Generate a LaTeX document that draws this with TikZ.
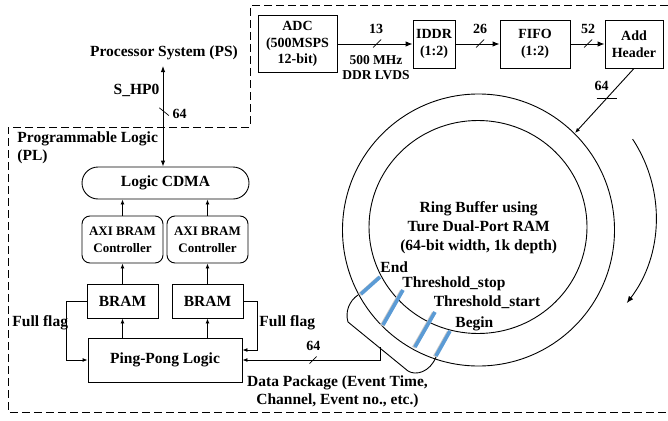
\documentclass[tikz,border=0pt]{standalone}
\usepackage{fontspec}
\setmainfont{Liberation Serif}
\usetikzlibrary{arrows.meta,calc}
\definecolor{markblue}{HTML}{5B9BD5}
\newcommand\fsbig{\fontsize{15.5}{18}\selectfont\bfseries}
\newcommand\fsring{\fontsize{15.5}{19}\selectfont\bfseries}
\newcommand\fsbox{\fontsize{14}{16.7}\selectfont\bfseries}
\newcommand\fslvds{\fontsize{13.5}{15}\selectfont\bfseries}
\newcommand\fsctl{\fontsize{13}{16.6}\selectfont\bfseries}

\begin{document}
\begin{tikzpicture}[x=1pt,y=-1pt,line width=0.9pt,
  every node/.style={font=\fsbig, inner sep=0pt},
  box/.style={draw, align=center},
  rbox/.style={draw, align=center, rounded corners=8pt},
  arr/.style={-{Latex[length=5pt,width=4pt]}},
  bigarr/.style={-{Latex[length=7pt,width=5.5pt]}},
  dblarr/.style={{Latex[length=6pt,width=4.5pt]}-{Latex[length=6pt,width=4.5pt]}},
  border/.style={dash pattern=on 8pt off 4pt, line width=1pt},
  slash/.style={line width=0.7pt},
  tagmark/.style={line width=3.6pt, draw=markblue},
  tagshadow/.style={line width=3.6pt, draw=black!22},
]
\useasboundingbox (0,0) rectangle (668,420);

% PS / PL partition
\draw[border] (668,6) -- (250,6) -- (250,127) -- (8,127) -- (8,412) -- (668,412);

% ---------- acquisition chain ----------
\node[box, minimum width=79, minimum height=57, font=\fsbox] (adc) at (297.5,44) {ADC\\(500MSPS\\12-bit)};
\node[box, minimum width=42, minimum height=48, font=\fsbox] (iddr) at (434,44) {IDDR\\(1:2)};
\node[box, minimum width=70, minimum height=48, font=\fsbox] (fifo) at (535,44) {FIFO\\(1:2)};
\node[box, minimum width=58, minimum height=48, font=\fsbox] (hdr) at (634,44) {Add\\Header};

\draw[bigarr] (adc) -- (iddr);
\draw[bigarr] (iddr) -- (fifo);
\draw[bigarr] (fifo) -- (hdr);

\node[font=\fsbox] (w13) at (376,29.3) {13};
\draw[slash] (373,47.5) -- (381,39.5);
\node[font=\fslvds, align=center] (lvds) at (376,67.5) {500 MHz\\DDR LVDS};
\node[font=\fsbox] (w26) at (480,29.3) {26};
\draw[slash] (476,47.5) -- (484,39.5);
\node[font=\fsbox] (w52) at (588,28.5) {52};
\draw[slash] (584,47.5) -- (592,39.5);

% ---------- ring buffer ----------
\coordinate (ringc) at (478.5,230);
\coordinate (ringi) at (478,227);
\draw (ringc) circle[radius=136];
\draw (ringi) ellipse[x radius=109, y radius=106.5];
\node[font=\fsring, align=center] (ringtxt) at (478.7,227.5)
  {Ring Buffer using\\Ture Dual-Port RAM\\(64-bit width, 1k depth)};

\coordinate (ringin) at (575,133);
\draw[arr] (hdr.south) -- (ringin);
\draw[slash] (596.5,98) -- (616.5,98);
\node[font=\fsbox] (w64a) at (601.7,86) {64};

% write direction
\draw[bigarr] (632.6,139.1) arc[start angle=-33.4, end angle=37.5, radius=141.5];

% pointer marks
\foreach \xa/\ya/\xb/\yb in {361/294/380/277, 383/325/403/290, 415/347/435/312, 436/356/450/331}{
  \draw[tagshadow] (\xa-1.3,\ya+0.6) -- (\xb-1.3,\yb+0.6);
  \draw[tagmark] (\xa,\ya) -- (\xb,\yb);
}
\node[anchor=west] (lend) at (380,267) {End};
\node[anchor=west] (lstop) at (402,283.8) {Threshold\_stop};
\node[anchor=west] (lstart) at (433.3,302.2) {Threshold\_start};
\node[anchor=west] (lbegin) at (455,323.5) {Begin};

% packet bracket under the ring
\draw (358,295) .. controls (349,301) and (345,312) .. (348,322) -- (408,371)
      .. controls (416,376) and (430,372) .. (436,357);
\coordinate (dp) at (380,347.4);

% ---------- PS side ----------
\node (ps) at (164,53) {Processor System (PS)};
\node[anchor=north west, align=left] (pl) at (17,131.5) {Programmable Logic\\(PL)};

\node[draw, rounded corners=16pt, minimum width=167, minimum height=32] (cdma) at (165.5,183) {Logic CDMA};
\coordinate (pstip) at (163,66);
\draw[dblarr] (pstip) -- (pstip |- cdma.north);
\node (shp) at (136.5,90) {S\_HP0};
\node[font=\fsbox] (w64b) at (179.5,114) {64};
\draw[slash] (159.3,107.8) -- (168.8,115.5);

\node[rbox, minimum width=81, minimum height=47, font=\fsctl] (ctlL) at (122.5,239.5) {AXI BRAM\\Controller};
\node[rbox, minimum width=81, minimum height=47, font=\fsctl] (ctlR) at (207.5,239.5) {AXI BRAM\\Controller};
\node[box, minimum width=71, minimum height=34] (bramL) at (122.5,301) {BRAM};
\node[box, minimum width=71, minimum height=34] (bramR) at (207.5,301) {BRAM};
\node[box, minimum width=154, minimum height=44] (pp) at (165,360) {Ping-Pong Logic};

\draw[arr] (ctlL) -- (ctlL |- cdma.south);
\draw[arr] (ctlR) -- (ctlR |- cdma.south);
\draw[arr] (bramL) -- (ctlL);
\draw[arr] (bramR) -- (ctlR);
\draw[arr] (pp.north -| bramL) -- (bramL);
\draw[arr] (pp.north -| bramR) -- (bramR);

\draw[arr] (bramL.west) -- ++(-20,0) |- (pp.west);
\draw[arr] (bramR.east) -- ++(14,0) |- ($(pp.east)+(0,-10)$);
\node[anchor=west] (ffL) at (12,323) {Full flag};
\node[anchor=west] (ffR) at (259,323) {Full flag};

% packet into ping-pong logic
\draw[arr] (dp) |- (pp.east);
\draw[slash] (309.5,363.5) -- (316.5,356.5);
\node[font=\fsbox] (w64c) at (313.3,346) {64};
\node[align=center] (pkt) at (337.5,392) {Data Package (Event Time,\\Channel, Event no., etc.)};
\end{tikzpicture}
\end{document}
